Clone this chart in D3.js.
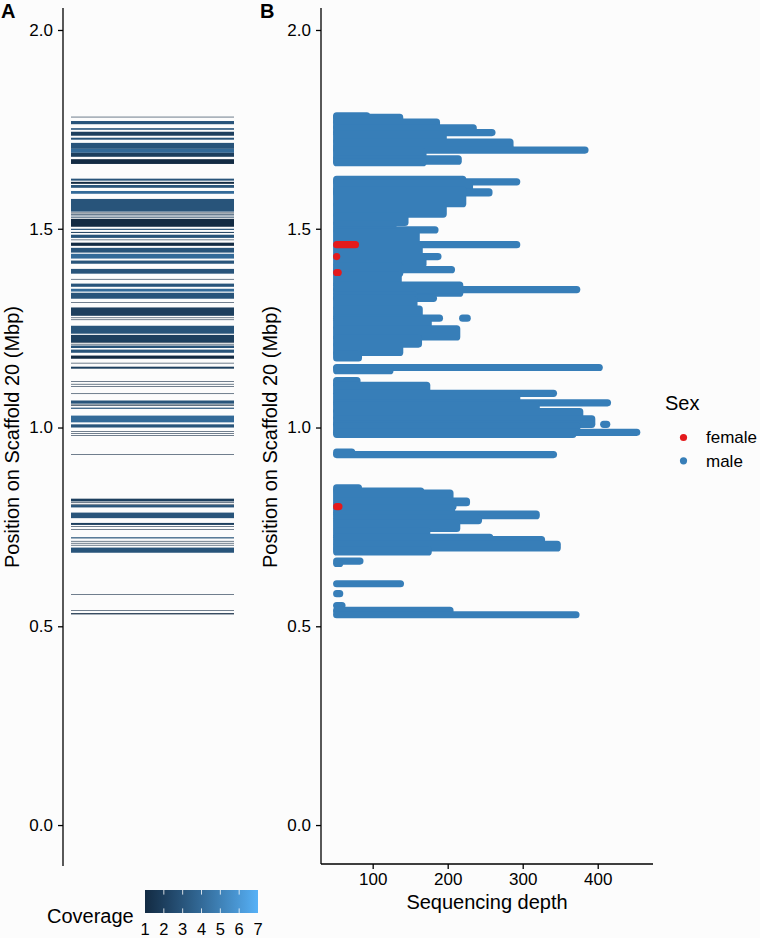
<!DOCTYPE html>
<html>
<head>
<meta charset="utf-8">
<script src="https://cdn.jsdelivr.net/npm/d3@7"></script>
<style>
  html, body { margin: 0; padding: 0; background: #fcfcfc; }
  svg { display: block; }
  text { font-family: "Liberation Sans", Arial, Helvetica, sans-serif; fill: #000; }
</style>
</head>
<body>
<svg id="chart" width="760" height="938"></svg>
<script>
// ---------- DATA ----------
// Panel A: covered intervals on scaffold 20 (Mbp, top, bottom, coverage)
const coverageBands = [
  [1.771, 1.763, 3], [1.753, 1.749, 3], [1.744, 1.734, 2], [1.729, 1.724, 3],
  [1.716, 1.701, 3], [1.701, 1.691, 4], [1.691, 1.681, 2], [1.675, 1.663, 1],
  [1.626, 1.621, 3], [1.618, 1.613, 1], [1.610, 1.603, 3], [1.595, 1.588, 4],
  [1.575, 1.543, 3], [1.525, 1.505, 1], [1.500, 1.497, 3], [1.492, 1.490, 2],
  [1.485, 1.477, 3], [1.465, 1.457, 1], [1.452, 1.440, 3], [1.437, 1.425, 4],
  [1.420, 1.412, 3], [1.399, 1.387, 3], [1.362, 1.354, 3], [1.349, 1.342, 4],
  [1.339, 1.324, 3], [1.302, 1.281, 2], [1.256, 1.236, 3], [1.233, 1.214, 2],
  [1.206, 1.200, 3], [1.196, 1.188, 3], [1.181, 1.173, 1], [1.153, 1.148, 2],
  [1.068, 1.060, 3], [1.050, 1.047, 3], [1.030, 1.013, 4], [1.008, 1.000, 3],
  [0.821, 0.814, 2], [0.805, 0.799, 3], [0.786, 0.772, 3], [0.760, 0.755, 2],
  [0.724, 0.721, 3], [0.698, 0.685, 3], [0.533, 0.530, 1]
];
// Panel A: single covered positions (Mbp, coverage)
const coverageSingles = [
  [1.781, 1], [1.540, 1], [1.537, 1], [1.535, 2], [1.532, 2], [1.528, 2],
  [1.472, 1], [1.373, 1], [1.314, 1], [1.276, 1], [1.271, 1], [1.213, 1],
  [1.208, 1], [1.162, 1], [1.116, 1], [1.109, 1], [1.103, 1], [1.085, 1],
  [1.057, 1], [1.055, 1], [0.990, 1], [0.985, 1], [0.980, 1], [0.932, 1],
  [0.811, 1], [0.807, 1], [0.751, 1], [0.744, 1], [0.714, 1], [0.709, 1],
  [0.704, 1], [0.580, 1], [0.540, 1]
];

// Panel B: male depth rows (Mbp top, Mbp bottom, max depth[, min depth])
const maleRows = [
  [1.784, 1.781, 92], [1.780, 1.770, 136], [1.768, 1.756, 185], [1.754, 1.746, 234],
  [1.742, 1.742, 259], [1.738, 1.722, 194], [1.718, 1.708, 283], [1.704, 1.702, 283],
  [1.698, 1.698, 383], [1.694, 1.680, 167], [1.676, 1.670, 214], [1.668, 1.666, 167],
  [1.624, 1.621, 220], [1.618, 1.618, 292], [1.614, 1.602, 229], [1.593, 1.590, 255],
  [1.598, 1.563, 220], [1.558, 1.537, 194], [1.532, 1.516, 143], [1.512, 1.503, 127],
  [1.497, 1.497, 183], [1.492, 1.467, 158], [1.460, 1.460, 292], [1.455, 1.436, 162],
  [1.430, 1.430, 187], [1.425, 1.411, 167], [1.406, 1.388, 136], [1.397, 1.397, 205],
  [1.384, 1.362, 134], [1.358, 1.338, 216], [1.347, 1.347, 372], [1.334, 1.328, 155],
  [1.325, 1.325, 181], [1.322, 1.302, 155], [1.298, 1.280, 162], [1.275, 1.275, 189],
  [1.275, 1.275, 226, 220], [1.270, 1.252, 174], [1.248, 1.228, 212], [1.224, 1.210, 161],
  [1.206, 1.189, 136], [1.185, 1.175, 81],
  [1.151, 1.151, 402], [1.148, 1.143, 123],
  [1.118, 1.110, 79], [1.106, 1.092, 172], [1.086, 1.086, 341], [1.080, 1.067, 292],
  [1.062, 1.062, 413], [1.057, 1.043, 318], [1.040, 1.026, 376], [1.022, 1.012, 392],
  [1.008, 1.008, 392], [1.008, 1.008, 412, 408], [1.004, 0.992, 372], [0.988, 0.988, 452],
  [0.985, 0.983, 367],
  [0.938, 0.936, 72], [0.932, 0.932, 341],
  [0.848, 0.845, 81], [0.840, 0.840, 164], [0.835, 0.821, 203], [0.815, 0.811, 225],
  [0.806, 0.801, 207], [0.797, 0.787, 205], [0.782, 0.778, 318], [0.772, 0.766, 241],
  [0.760, 0.746, 212], [0.740, 0.729, 172], [0.724, 0.724, 256], [0.718, 0.712, 325],
  [0.706, 0.697, 346], [0.692, 0.687, 174],
  [0.664, 0.664, 83], [0.658, 0.658, 56], [0.607, 0.607, 137], [0.582, 0.582, 56],
  [0.552, 0.552, 59], [0.540, 0.537, 203], [0.529, 0.529, 371]
];
// Panel B: female depth rows (Mbp, min depth, max depth)
const femaleRows = [
  [1.460, 52, 77], [1.430, 52, 52], [1.390, 52, 54], [0.801, 52, 55]
];
const minDepth = 52;

const yTicks = [0.0, 0.5, 1.0, 1.5, 2.0];
const xTicks = [100, 200, 300, 400];
const coverageTicks = [1, 2, 3, 4, 5, 6, 7];
const sexLevels = ["female", "male"];
const sexColors = ["#E41A1C", "#377EB8"];

// ---------- DRAW ----------
const svg = d3.select("#chart");
svg.append("rect").attr("width", 760).attr("height", 938).attr("fill", "#fcfcfc");

const y = d3.scaleLinear().domain([-0.103, 2.0553]).range([866, 8]);
const xA = d3.scaleLinear().domain([0, 1]).range([71, 234]);
const xB = d3.scaleLinear().domain([31.1, 473.7]).range([321, 653]);
const cov = d3.scaleLinear().domain([1, 7]).range(["#132B43", "#56B1F7"]).interpolate(d3.interpolateLab);
const sexColor = d3.scaleOrdinal().domain(sexLevels).range(sexColors);

const fmt = d3.format(".1f");

// Panel A
const gA = svg.append("g");
gA.selectAll("rect.band").data(coverageBands).join("rect")
  .attr("x", xA(0)).attr("width", xA(1) - xA(0))
  .attr("y", d => y(d[0]))
  .attr("height", d => Math.max(1, y(d[1]) - y(d[0])))
  .attr("fill", d => cov(d[2]));
gA.selectAll("rect.single").data(coverageSingles).join("rect")
  .attr("x", xA(0)).attr("width", xA(1) - xA(0))
  .attr("y", d => y(d[0]) - 0.3)
  .attr("height", 0.6)
  .attr("fill", d => cov(d[1]));

const axA = gA.append("g").attr("transform", "translate(63,0)")
  .call(d3.axisLeft(y).tickValues(yTicks).tickFormat(fmt).tickSize(5).tickPadding(5));
axA.select(".domain").attr("d", "M0,8V866").attr("stroke", "#000").attr("stroke-width", 1.3);
axA.selectAll(".tick line").attr("stroke", "#000").attr("stroke-width", 1.3);
axA.selectAll(".tick text").attr("font-size", 17).attr("fill", "#1a1a1a")
  .style("font-family", "Liberation Sans, Arial, sans-serif");

svg.append("text").attr("transform", "translate(19,437) rotate(-90)")
  .attr("text-anchor", "middle").attr("font-size", 20)
  .text("Position on Scaffold 20 (Mbp)");
svg.append("text").attr("x", 1).attr("y", 18).attr("font-size", 20).attr("font-weight", "bold").text("A");

// Panel B
const gB = svg.append("g");
const r = 3.6;
gB.selectAll("rect.male").data(maleRows).join("rect")
  .attr("x", d => xB(d.length > 3 ? d[3] : minDepth) - r)
  .attr("width", d => xB(d[2]) - xB(d.length > 3 ? d[3] : minDepth) + 2 * r)
  .attr("y", d => y(d[0]) - r)
  .attr("height", d => y(d[1]) - y(d[0]) + 2 * r)
  .attr("rx", r).attr("ry", r)
  .attr("fill", sexColor("male"));
gB.selectAll("rect.female").data(femaleRows).join("rect")
  .attr("x", d => xB(d[1]) - r)
  .attr("width", d => xB(d[2]) - xB(d[1]) + 2 * r)
  .attr("y", d => y(d[0]) - r)
  .attr("height", 2 * r)
  .attr("rx", r).attr("ry", r)
  .attr("fill", sexColor("female"));

const axBy = gB.append("g").attr("transform", "translate(321,0)")
  .call(d3.axisLeft(y).tickValues(yTicks).tickFormat(fmt).tickSize(5).tickPadding(5));
axBy.select(".domain").attr("d", "M0,8V864").attr("stroke", "#000").attr("stroke-width", 1.3);
axBy.selectAll(".tick line").attr("stroke", "#000").attr("stroke-width", 1.3);
axBy.selectAll(".tick text").attr("font-size", 17).attr("fill", "#1a1a1a")
  .style("font-family", "Liberation Sans, Arial, sans-serif");

const axBx = gB.append("g").attr("transform", "translate(0,864)")
  .call(d3.axisBottom(xB).tickValues(xTicks).tickSize(5).tickPadding(4));
axBx.select(".domain").attr("d", "M321,0H653").attr("stroke", "#000").attr("stroke-width", 1.3);
axBx.selectAll(".tick line").attr("stroke", "#000").attr("stroke-width", 1.3);
axBx.selectAll(".tick text").attr("font-size", 17).attr("fill", "#1a1a1a")
  .style("font-family", "Liberation Sans, Arial, sans-serif");

svg.append("text").attr("x", 487).attr("y", 909).attr("text-anchor", "middle")
  .attr("font-size", 20).text("Sequencing depth");
svg.append("text").attr("transform", "translate(277,437) rotate(-90)")
  .attr("text-anchor", "middle").attr("font-size", 20)
  .text("Position on Scaffold 20 (Mbp)");
svg.append("text").attr("x", 260).attr("y", 18).attr("font-size", 20).attr("font-weight", "bold").text("B");

// Sex legend
svg.append("text").attr("x", 665).attr("y", 410).attr("font-size", 20).text("Sex");
const leg = svg.append("g");
sexLevels.forEach((s, i) => {
  const cy = 437.5 + i * 23.3;
  leg.append("circle").attr("cx", 683.5).attr("cy", cy).attr("r", 3.6).attr("fill", sexColor(s));
  leg.append("text").attr("x", 706).attr("y", cy).attr("dy", "0.35em").attr("font-size", 17).text(s);
});

// Coverage colourbar
const cbX = d3.scaleLinear().domain([1, 7]).range([145, 258]);
const defs = svg.append("defs");
const grad = defs.append("linearGradient").attr("id", "covgrad").attr("x1", "0%").attr("x2", "100%");
d3.range(0, 1.0001, 0.1).forEach(t => {
  grad.append("stop").attr("offset", (t * 100) + "%").attr("stop-color", cov(1 + 6 * t));
});
svg.append("rect").attr("x", cbX(1)).attr("y", 890).attr("width", cbX(7) - cbX(1)).attr("height", 23)
  .attr("fill", "url(#covgrad)");
coverageTicks.slice(1, -1).forEach(v => {
  svg.append("line").attr("x1", cbX(v)).attr("x2", cbX(v)).attr("y1", 890).attr("y2", 894.6)
    .attr("stroke", "#fff").attr("stroke-width", 0.8);
  svg.append("line").attr("x1", cbX(v)).attr("x2", cbX(v)).attr("y1", 908.4).attr("y2", 913)
    .attr("stroke", "#fff").attr("stroke-width", 0.8);
});
coverageTicks.forEach(v => {
  svg.append("text").attr("x", cbX(v)).attr("y", 935).attr("text-anchor", "middle")
    .attr("font-size", 16.5).text(v);
});
svg.append("text").attr("x", 47).attr("y", 923).attr("font-size", 20).text("Coverage");
</script>
</body>
</html>
